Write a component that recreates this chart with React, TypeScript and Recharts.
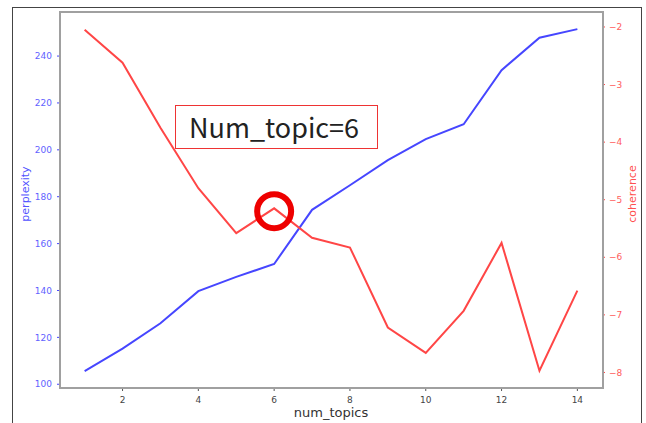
import { LineChart, Line, XAxis, YAxis, ReferenceDot } from "recharts";

const topics = [1, 2, 3, 4, 5, 6, 7, 8, 9, 10, 11, 12, 13, 14];
const perplexity = [105.6, 115.2, 126.0, 139.7, 145.8, 151.3, 174.4, 184.9, 195.6, 204.6, 210.9, 234.0, 247.8, 251.5];
const coherence = [-2.05, -2.62, -3.75, -4.8, -5.58, -5.15, -5.66, -5.83, -7.22, -7.66, -6.93, -5.75, -7.97, -6.58];

const xTicks = [2, 4, 6, 8, 10, 12, 14];
const leftTicks = [100, 120, 140, 160, 180, 200, 220, 240];
const rightTicks = [-8, -7, -6, -5, -4, -3, -2];

const bestIndex = 5; // num_topics = 6

const chartData = topics.map((t, i) => ({
  topic: t,
  perplexity: perplexity[i],
  coherence: coherence[i],
}));

const BLUE = "#4646ff";
const RED = "#ff4646";
const tickFont = { fontFamily: "DejaVu Sans", fontSize: 9 };

export default function App() {
  return (
    <div
      style={{
        position: "absolute",
        left: 0,
        top: 0,
        width: 646,
        height: 423,
        background: "#fff",
        overflow: "hidden",
      }}
    >
      {/* screenshot frame */}
      <div
        style={{
          position: "absolute",
          left: 12,
          top: 7,
          width: 630,
          height: 440,
          border: "1px solid #444",
          boxSizing: "border-box",
        }}
      />
      <LineChart
        width={646}
        height={423}
        data={chartData}
        margin={{ top: 12, right: 4, bottom: 5, left: 20 }}
        style={{ position: "absolute", left: 0, top: 0 }}
      >
        <XAxis
          dataKey="topic"
          type="number"
          domain={[0.35, 14.65]}
          ticks={xTicks}
          axisLine={false}
          tickSize={3}
          tickMargin={6}
          tickLine={{ stroke: "#555" }}
          tick={{ ...tickFont, fill: "#444" }}
          height={30}
        />
        <YAxis
          yAxisId="left"
          domain={[98.4, 258.8]}
          ticks={leftTicks}
          axisLine={false}
          tickSize={3}
          tickMargin={5}
          tickLine={{ stroke: BLUE }}
          tick={{ ...tickFont, fill: "#6262ff" }}
          width={40}
        />
        <YAxis
          yAxisId="right"
          orientation="right"
          domain={[-8.27, -1.74]}
          ticks={rightTicks}
          axisLine={false}
          tickSize={3}
          tickMargin={4}
          tickLine={{ stroke: RED }}
          tick={{ ...tickFont, fill: "#ff5c5c" }}
          tickFormatter={(v) => String(v).replace("-", "\u2212")}
          width={40}
        />
        <Line
          yAxisId="left"
          dataKey="perplexity"
          stroke={BLUE}
          strokeWidth={2}
          dot={false}
          type="linear"
          isAnimationActive={false}
        />
        <Line
          yAxisId="right"
          dataKey="coherence"
          stroke={RED}
          strokeWidth={2}
          dot={false}
          type="linear"
          isAnimationActive={false}
        />
        <ReferenceDot
          yAxisId="right"
          x={topics[bestIndex]}
          y={coherence[bestIndex] - 0.05}
          r={17}
          fill="none"
          stroke="#ee0000"
          strokeWidth={6}
        />
      </LineChart>
      {/* plot frame */}
      <div
        style={{
          position: "absolute",
          left: 59,
          top: 11,
          width: 545,
          height: 378,
          border: "2px solid #a0a0a0",
          boxSizing: "border-box",
          pointerEvents: "none",
        }}
      />
      {/* axis titles */}
      <div
        style={{
          position: "absolute",
          left: 25,
          top: 194,
          transform: "translate(-50%, -50%) rotate(-90deg)",
          fontFamily: "DejaVu Sans",
          fontSize: 11,
          color: "#5252ff",
          whiteSpace: "nowrap",
        }}
      >
        perplexity
      </div>
      <div
        style={{
          position: "absolute",
          left: 632,
          top: 194,
          transform: "translate(-50%, -50%) rotate(-90deg)",
          fontFamily: "DejaVu Sans",
          fontSize: 11,
          color: "#ff5050",
          whiteSpace: "nowrap",
        }}
      >
        coherence
      </div>
      <div
        style={{
          position: "absolute",
          left: 331,
          top: 412,
          transform: "translate(-50%, -50%)",
          fontFamily: "DejaVu Sans",
          fontSize: 13,
          color: "#333",
          whiteSpace: "nowrap",
        }}
      >
        num_topics
      </div>
      {/* annotation box */}
      <div
        style={{
          position: "absolute",
          left: 175,
          top: 105,
          width: 203,
          height: 44,
          border: "1.5px solid #ee3333",
          boxSizing: "border-box",
          background: "#fff",
          fontFamily: "Noto Sans CJK JP",
          fontSize: 27,
          lineHeight: "41px",
          paddingLeft: 13,
          color: "#222",
          whiteSpace: "nowrap",
        }}
      >
        Num_topic=6
      </div>
    </div>
  );
}
